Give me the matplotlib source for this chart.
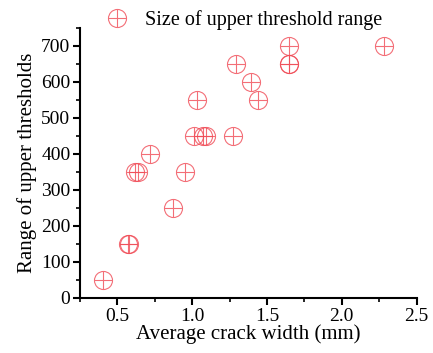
import matplotlib
matplotlib.use("Agg")
import matplotlib.pyplot as plt
import matplotlib.path as mpath
from matplotlib.ticker import MultipleLocator

plt.rcParams['font.family'] = ['Liberation Serif', 'DejaVu Serif']

# average crack width (mm) vs. range of upper thresholds
crack_width = [0.40, 0.57, 0.58, 0.62, 0.64, 0.72, 0.87, 0.95, 1.01, 1.03,
               1.07, 1.09, 1.27, 1.29, 1.39, 1.44, 1.65, 1.65, 1.65, 2.28]
upper_range = [50, 150, 150, 350, 350, 400, 250, 350, 450, 550,
               450, 450, 450, 650, 600, 550, 650, 650, 700, 700]

# circle with a cross in it
Path = mpath.Path
cross = Path([(-1, 0), (1, 0), (0, -1), (0, 1)],
             [Path.MOVETO, Path.LINETO, Path.MOVETO, Path.LINETO])
oplus = Path.make_compound_path(Path.unit_circle(), cross)

fig = plt.figure(figsize=(4.33, 3.53), dpi=100)
ax = fig.add_axes([0.185, 0.156, 0.777, 0.765])

ax.plot(crack_width, upper_range, linestyle='none', marker=oplus,
        markersize=13, markerfacecolor='none', markeredgecolor='#f04a55',
        markeredgewidth=0.8, alpha=0.8, label='Size of upper threshold range')

ax.set_xlim(0.25, 2.5)
ax.set_ylim(0, 750)
ax.xaxis.set_major_locator(MultipleLocator(0.5))
ax.xaxis.set_minor_locator(MultipleLocator(0.25))
ax.yaxis.set_major_locator(MultipleLocator(100))
ax.yaxis.set_minor_locator(MultipleLocator(50))

for side in ['top', 'right']:
    ax.spines[side].set_visible(False)
for side in ['left', 'bottom']:
    ax.spines[side].set_linewidth(1.5)

ax.tick_params(which='major', direction='out', length=5, width=1.5, labelsize=14, pad=2)
ax.tick_params(which='minor', direction='out', length=3, width=1.2)

ax.set_xlabel('Average crack width (mm)', fontsize=15, labelpad=0)
ax.set_ylabel('Range of upper thresholds', fontsize=15, labelpad=3)

ax.legend(loc='upper center', bbox_to_anchor=(0.475, 1.095), frameon=False,
          fontsize=14.5, handletextpad=0.4, borderaxespad=0)

fig.savefig('out.png', dpi=100)
